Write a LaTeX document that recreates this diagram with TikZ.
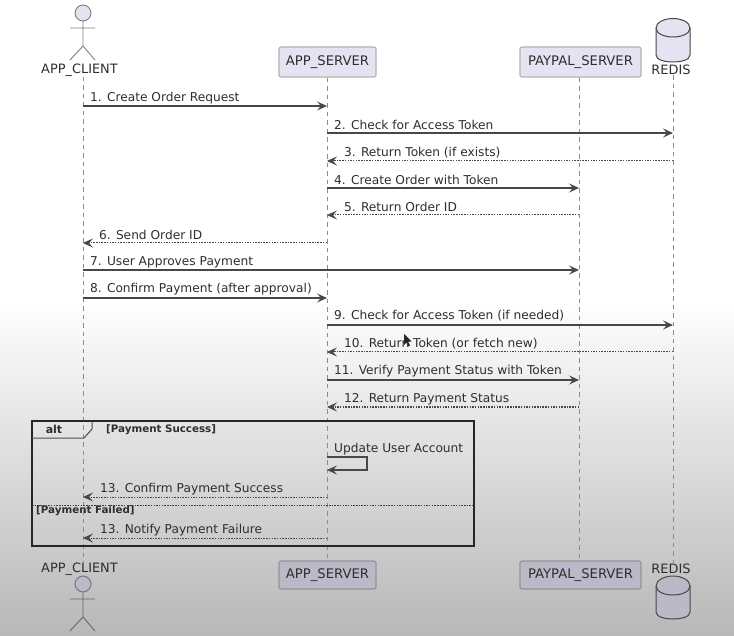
\documentclass[tikz,border=0pt]{standalone}
\usepackage{fontspec}
\setmainfont{DejaVu Sans}
\usetikzlibrary{arrows.meta}
\definecolor{ink}{HTML}{2E2E2E}
\tikzset{
  x=1pt,y=-1pt,
  lbl/.style={anchor=west,inner sep=0pt,font=\fontsize{12.2}{14}\selectfont,text=ink},
  guard/.style={anchor=west,inner sep=0pt,font=\fontsize{10.3}{12}\bfseries\selectfont,text=ink},
  head/.style={inner sep=0pt,font=\fontsize{12.9}{15}\selectfont,text=ink},
  boxtop/.style={draw=#1,line width=1.1pt,rounded corners=2pt,fill=boxA,minimum height=30pt,inner sep=0pt,font=\fontsize{13.2}{15}\selectfont,text=ink},
  lifeline/.style={draw=black!45,line width=.9pt,dash pattern=on 4.5pt off 4pt},
  tipmsg/.style={-{Stealth[length=10pt,width=9pt,inset=4pt]}},
  msg/.style={tipmsg,draw=black!72,line width=1.2pt},
  ret/.style={tipmsg,draw=black!72,line width=1pt,dash pattern=on 1.5pt off 1.2pt},
  frameline/.style={draw=black!85,line width=1.5pt},
  limb/.style={draw=black!50,line width=.9pt},
  limbB/.style={draw=black!60,line width=.9pt},
}
\definecolor{boxA}{HTML}{E3E3F2}
\definecolor{boxB}{HTML}{B9B9C8}
\begin{document}
\begin{tikzpicture}
\useasboundingbox (0,0) rectangle (734,636);
\fill[white] (0,0) rectangle (734,636);
\shade[top color=white,bottom color=black!28,shading angle=0] (0,300) rectangle (734,636);

% lifeline anchors
\node[boxtop=black!30,minimum width=97pt] (svT) at (327.5,62) {APP\_SERVER};
\node[boxtop=black!30,minimum width=121pt] (ppT) at (580.5,62) {PAYPAL\_SERVER};
\node[boxtop=black!42,fill=boxB,minimum width=97pt,minimum height=28pt] (svB) at (327.5,575) {APP\_SERVER};
\node[boxtop=black!42,fill=boxB,minimum width=121pt,minimum height=28pt] (ppB) at (580.5,575) {PAYPAL\_SERVER};
\node[head] (clT) at (79.5,70) {APP\_CLIENT};
\node[head] (clB) at (79.5,569) {APP\_CLIENT};
\node[head] (rdT) at (671,70) {REDIS};
\node[head] (rdB) at (671,569) {REDIS};

\coordinate (cl) at (83,0);
\coordinate (sv) at (327,0);
\coordinate (pp) at (579,0);
\coordinate (rd) at (673,0);

\draw[lifeline] (cl |- clT.south) -- (cl |- clB.north);
\draw[lifeline] (svT.south -| sv) -- (svB.north -| sv);
\draw[lifeline] (ppT.south -| pp) -- (ppB.north -| pp);
\draw[lifeline] (rd |- rdT.south) -- (rd |- rdB.north);

% actors
\fill[boxA,draw=black!50,line width=.9pt] (83,13) circle (8);
\draw[limb] (70,28) -- (95,28) (83,21) -- (83,46) (70,60) -- (83,46) -- (95,60);
\fill[boxB,draw=black!55,line width=.9pt] (83,584) circle (8);
\draw[limbB] (70,599) -- (95,599) (83,592) -- (83,617) (70,631) -- (83,617) -- (95,631);

% databases
\filldraw[fill=boxA,draw=black!72,line width=1pt] (656,28) -- (656,55) .. controls (656,60) and (665,62) .. (673,62) .. controls (681,62) and (690,60) .. (690,55) -- (690,28) .. controls (690,22) and (681,18.5) .. (673,18.5) .. controls (665,18.5) and (656,22) .. (656,28) -- cycle;
\draw[draw=black!72,line width=1pt] (656,28) .. controls (656,34) and (665,37) .. (673,37) .. controls (681,37) and (690,34) .. (690,28);
\filldraw[fill=boxB,draw=black!72,line width=1pt] (656,586) -- (656,612) .. controls (656,617) and (665,619) .. (673,619) .. controls (681,619) and (690,617) .. (690,612) -- (690,586) .. controls (690,580) and (681,576) .. (673,576) .. controls (665,576) and (656,580) .. (656,586) -- cycle;
\draw[draw=black!72,line width=1pt] (656,586) .. controls (656,592) and (665,595) .. (673,595) .. controls (681,595) and (690,592) .. (690,586);

% messages
\node[lbl] (m1) at (90,98) {1. Create Order Request};
\draw[msg] (cl |- 0,106) -- (sv |- 0,106);
\node[lbl] (m2) at (334,125) {2. Check for Access Token};
\draw[msg] (sv |- 0,133) -- (rd |- 0,133);
\node[lbl] (m3) at (344,153) {3. Return Token (if exists)};
\draw[ret] (rd |- 0,161) -- (sv |- 0,161);
\node[lbl] (m4) at (334,180) {4. Create Order with Token};
\draw[msg] (sv |- 0,188) -- (pp |- 0,188);
\node[lbl] (m5) at (344,207) {5. Return Order ID};
\draw[ret] (pp |- 0,215) -- (sv |- 0,215);
\node[lbl] (m6) at (99,235) {6. Send Order ID};
\draw[ret] (sv |- 0,243) -- (cl |- 0,243);
\node[lbl] (m7) at (90,262) {7. User Approves Payment};
\draw[msg] (cl |- 0,270) -- (pp |- 0,270);
\node[lbl] (m8) at (90,289) {8. Confirm Payment (after approval)};
\draw[msg] (cl |- 0,298) -- (sv |- 0,298);
\node[lbl] (m9) at (334,316) {9. Check for Access Token (if needed)};
\draw[msg] (sv |- 0,325) -- (rd |- 0,325);
\node[lbl] (m10) at (344,344) {10. Return Token (or fetch new)};
\draw[ret] (rd |- 0,352) -- (sv |- 0,352);
\node[lbl] (m11) at (334,371) {11. Verify Payment Status with Token};
\draw[msg] (sv |- 0,380) -- (pp |- 0,380);
\node[lbl] (m12) at (344,399) {12. Return Payment Status};
\draw[ret] (pp |- 0,407) -- (sv |- 0,407);

% cursor
\fill[black!85] (404,334) -- (404,345) -- (406.5,342.5) -- (408.5,346.5) -- (410,345.5) -- (408.2,341.8) -- (411.5,341.5) -- cycle;

% alt frame
\draw[frameline] (32,421) rectangle (474,546);
\draw[draw=black!70,line width=1pt] (32,438) -- (84,438) -- (92,429) -- (92,421);
\node[anchor=center,inner sep=0pt,font=\fontsize{11}{13}\bfseries\selectfont,text=ink] (altl) at (54,429.5) {alt};
\node[guard] (g1) at (106,430) {[Payment Success]};
\node[lbl] (upd) at (334,449) {Update User Account};
\draw[msg] (sv |- 0,457) -- (367,457) -- (367,470) -- (sv |- 0,470);
\node[lbl] (m13) at (100,489) {13. Confirm Payment Success};
\draw[ret] (sv |- 0,497) -- (cl |- 0,497);
\draw[draw=black!75,line width=1pt,dash pattern=on 1.5pt off 1.2pt] (32,505) -- (474,505);
\node[guard] (g2) at (36,511) {[Payment Failed]};
\node[lbl] (m14) at (100,530) {13. Notify Payment Failure};
\draw[ret] (sv |- 0,538) -- (cl |- 0,538);
\end{tikzpicture}
\end{document}
